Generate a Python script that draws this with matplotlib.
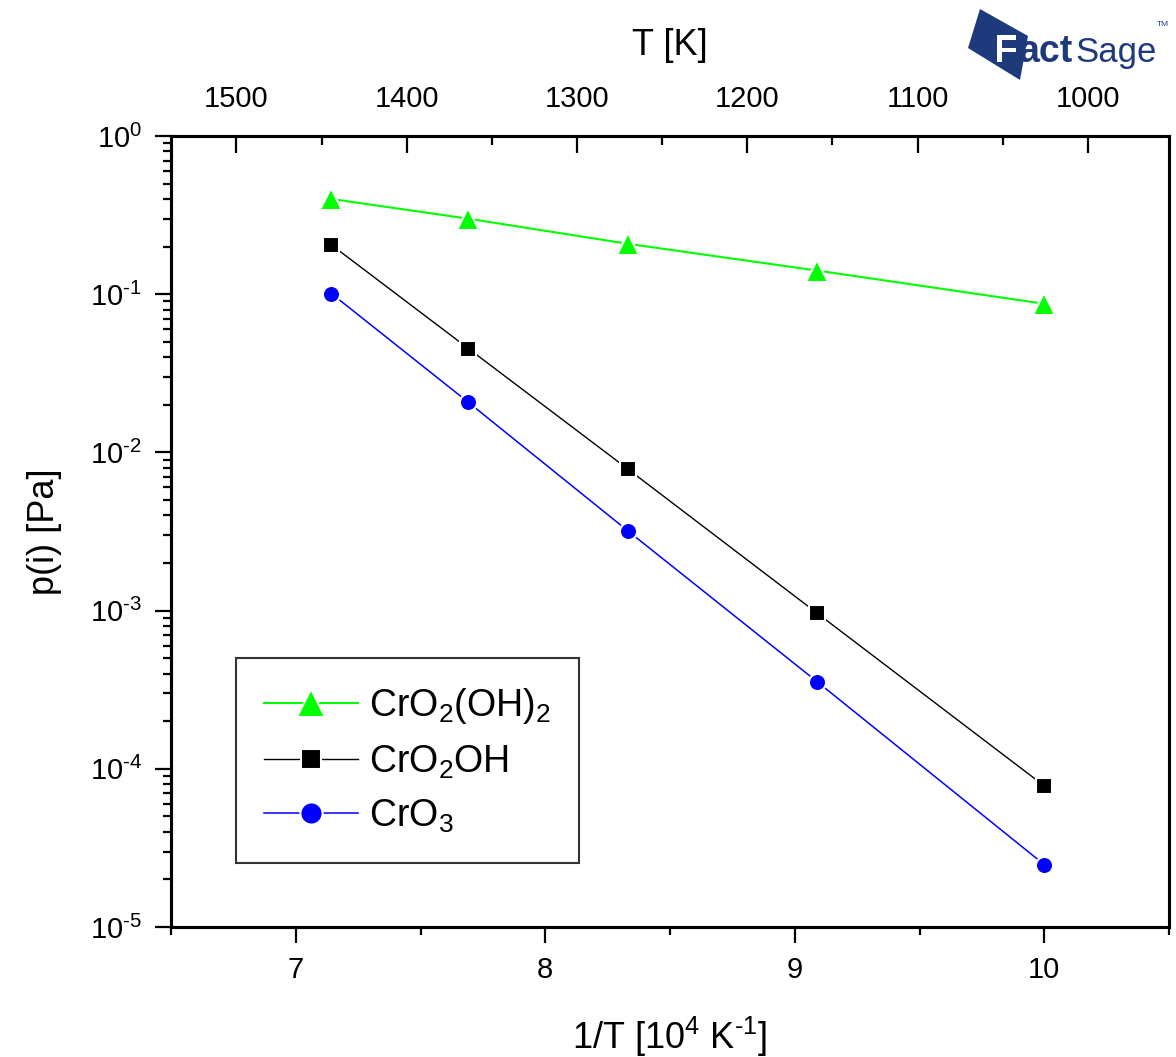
import matplotlib
matplotlib.use("Agg")
import matplotlib.pyplot as plt
from matplotlib.patches import Polygon
from matplotlib.ticker import FixedLocator, LogLocator, NullFormatter, FuncFormatter
import matplotlib.patheffects as pe
import numpy as np

# ---- data ----
temperatures_K = [1400, 1300, 1200, 1100, 1000]
inv_T = [1e4 / t for t in temperatures_K]
p_CrO2OH2 = [0.40, 0.30, 0.208, 0.141, 0.087]
p_CrO2OH = [0.205, 0.0453, 0.0078, 9.6e-4, 7.8e-5]
p_CrO3 = [0.101, 0.0207, 3.17e-3, 3.54e-4, 2.48e-5]
labels = [r"CrO$_2$(OH)$_2$", r"CrO$_2$OH", r"CrO$_3$"]
top_ticks = [1500, 1400, 1300, 1200, 1100, 1000]
top_minor = [1450, 1350, 1250, 1150, 1050]
bottom_ticks = [7, 8, 9, 10]
bottom_minor = [6.5, 7.5, 8.5, 9.5, 10.5]

plt.rcParams['font.family'] = ['Liberation Sans', 'DejaVu Sans']
plt.rcParams['mathtext.fontset'] = 'custom'
plt.rcParams['mathtext.rm'] = 'Liberation Sans'
plt.rcParams['mathtext.it'] = 'Liberation Sans'
plt.rcParams['mathtext.default'] = 'regular'
plt.rcParams['axes.unicode_minus'] = False

W, H = 1176, 1057
fig = plt.figure(figsize=(W / 100, H / 100), dpi=100)
L, R, T, B = 171, 1169, 136, 927
ax = fig.add_axes([L / W, 1 - B / H, (R - L) / W, (B - T) / H])

ax.plot(inv_T, p_CrO2OH2, '-', color='#00ff00', lw=1.5, marker='^', ms=15.5,
        mfc='#00ff00', mec='white', mew=1.5, label=labels[0])
ax.plot(inv_T, p_CrO2OH, '-', color='black', lw=1.0, marker='s', ms=11,
        mfc='black', mec='white', mew=1.5, label=labels[1])
ax.plot(inv_T, p_CrO3, '-', color='#0000ff', lw=1.1, marker='o', ms=12.3,
        mfc='#0000ff', mec='white', mew=1.5, label=labels[2])

ax.set_yscale('log')
ax.set_ylim(1e-5, 1)
ax.set_xlim(6.5, 10.5)
ax.xaxis.set_major_locator(FixedLocator(bottom_ticks))
ax.xaxis.set_minor_locator(FixedLocator(bottom_minor))
ax.yaxis.set_major_locator(LogLocator(base=10, numticks=10))
ax.yaxis.set_minor_locator(LogLocator(base=10, subs=np.arange(2, 10), numticks=20))
ax.yaxis.set_minor_formatter(NullFormatter())


def log_fmt(v, pos):
    n = int(round(np.log10(v)))
    if n < 0:
        return r"$10^{\text{-}%d}$" % (-n)
    return r"$10^{%d}$" % n


ax.yaxis.set_major_formatter(FuncFormatter(log_fmt))

for s in ax.spines.values():
    s.set_linewidth(2.2)
ax.tick_params(axis='both', which='major', direction='out', length=11.5, width=1.6,
               labelsize=21, pad=9.5)
ax.tick_params(axis='both', which='minor', direction='out', length=6, width=1.6)
ax.tick_params(right=False, top=False)

ax.set_xlabel(r"1/T [10$^4$ K$^{\text{-}1}$]", fontsize=26, labelpad=22)
ax.set_ylabel("p(i) [Pa]", fontsize=26, labelpad=20)

# top axis (linear in T)
ax2 = ax.twiny()
ax2.set_xlim(1e4 / 6.5, 1e4 / 10.5)
ax2.xaxis.set_major_locator(FixedLocator(top_ticks))
ax2.xaxis.set_minor_locator(FixedLocator(top_minor))
ax2.tick_params(axis='x', which='major', direction='in', length=12, width=1.6,
                labelsize=21, pad=16.5)
ax2.tick_params(axis='x', which='minor', direction='in', length=6.5, width=1.6)
for s in ax2.spines.values():
    s.set_linewidth(2.2)
ax2.set_xlabel("T [K]", fontsize=26, labelpad=22)

leg = ax.legend(loc='lower left', bbox_to_anchor=(0.065, 0.081), borderaxespad=0,
                fontsize=27, handlelength=2.5, handletextpad=0.3, labelspacing=0.45,
                frameon=True, fancybox=False, borderpad=0.75, markerscale=1.3)
leg.get_frame().set_edgecolor('black')
leg.get_frame().set_linewidth(1.5)

# FactSage logo (approximation)
navy = '#1f3a7a'
pts = [(980, 9), (1028, 36), (1020, 80), (968, 48)]
logo = Polygon([(x, H - y) for x, y in pts], closed=True, transform=None,
               facecolor=navy, edgecolor='none', zorder=1)
fig.patches.append(logo)
fig.text(994 / W, 1 - 62 / H, "F", fontsize=28, fontweight='bold', color='white',
         va='baseline', ha='left', zorder=3,
         path_effects=[pe.withStroke(linewidth=2.5, foreground=navy)])
fig.text(1019 / W, 1 - 62 / H, "act", fontsize=27, fontweight='bold', color=navy,
         va='baseline', ha='left', zorder=3)
fig.text(1075 / W, 1 - 62 / H, "Sage", fontsize=25, color=navy, va='baseline',
         ha='left', zorder=3)
fig.text(1157 / W, 1 - 24 / H, "TM", fontsize=6, color=navy, va='center', ha='left',
         zorder=3)

fig.savefig("out.png", dpi=100)
